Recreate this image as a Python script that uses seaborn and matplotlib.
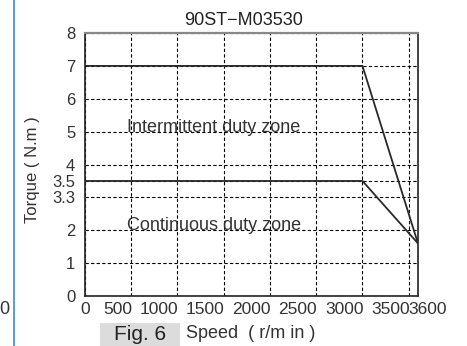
import matplotlib
matplotlib.use("Agg")
import matplotlib.pyplot as plt
import matplotlib.transforms as mtrans
import seaborn as sns
import pandas as pd
from matplotlib.lines import Line2D
from matplotlib.patches import Rectangle

speed = [0, 3000, 3600]
intermittent = [7, 7, 1.6]
continuous = [3.5, 3.5, 1.6]
xticks = [0, 500, 1000, 1500, 2000, 2500, 3000, 3500, 3600]
yticks = [0, 1, 2, 3, 3.5, 4, 5, 6, 7, 8]
ylabels = ["0", "1", "2", "3.3", "3.5", "4", "5", "6", "7", "8"]

sns.set_style("white")
plt.rcParams['font.family'] = ['Liberation Sans', 'DejaVu Sans']

fig = plt.figure(figsize=(4.67, 3.46), dpi=100)
ax = fig.add_axes([0.182, 0.1445, 0.713, 0.760])

df = pd.DataFrame({"speed": speed + speed,
                   "torque": intermittent + continuous,
                   "zone": ["int"] * 3 + ["cont"] * 3})
sns.lineplot(data=df, x="speed", y="torque", units="zone", estimator=None,
             color="#2a2a2a", lw=1.3, ax=ax, legend=False, zorder=3)

ax.set_xlim(0, 3600)
ax.set_ylim(0, 8)
ax.set_xticks(xticks)
ax.set_xticklabels([str(v) for v in xticks])
ax.set_yticks(yticks)
ax.set_yticklabels(ylabels)
ax.tick_params(length=0, colors="#333333")
ax.tick_params(axis="x", labelsize=12.5, pad=4)
ax.tick_params(axis="y", labelsize=12, pad=7)
ax.grid(True, color="black", lw=0.8, ls=(0, (3, 2)))
ax.set_axisbelow(True)
for s in ["left", "bottom", "right"]:
    ax.spines[s].set_color("#222222")
    ax.spines[s].set_linewidth(1.2)
ax.spines["top"].set_color("#888888")
ax.spines["top"].set_linewidth(1.6)

# x tick labels are set flush to the left of their grid lines, as in the scan
for lab, v in zip(ax.get_xticklabels(), xticks):
    if v == 0:
        continue
    if v == 3600:
        lab.set_ha("left")
        off = -10
    else:
        lab.set_ha("right")
        off = 1
    lab.set_transform(lab.get_transform() +
                      mtrans.ScaledTranslation(off / fig.dpi, 0, fig.dpi_scale_trans))

ax.set_xlabel("")
ax.set_ylabel("Torque ( N.m )", fontsize=12, color="#333333")
ax.yaxis.set_label_coords(-0.135, 0.48)
ax.set_title("90ST\u2212M03530", fontsize=13, color="#222222", pad=6, x=0.475)

ax.text(1395, 5.0, "Intermittent duty zone", fontsize=13, color="#333333",
        ha="center", va="baseline")
ax.text(1395, 2.0, "Continuous duty zone", fontsize=13, color="#333333",
        ha="center", va="baseline")

# Figure decorations
fig.add_artist(Line2D([14 / 467, 14 / 467], [0, 1], color="#3b8ec2", lw=1.2))
fig.text(4 / 467, 1 - 309 / 346, "0", fontsize=13, color="#333333",
         ha="center", va="center")
fig.add_artist(Rectangle((100 / 467, 0), 80 / 467, 23 / 346,
                         transform=fig.transFigure, color="#dcdcdc", lw=0))
fig.text(140 / 467, 1 - 334 / 346, "Fig. 6", fontsize=15, color="#222222",
         ha="center", va="center")
fig.text(186 / 467, 1 - 334 / 346, "Speed  ( r/m in )", fontsize=13,
         color="#333333", ha="left", va="center")

fig.savefig("out.png", dpi=100)
